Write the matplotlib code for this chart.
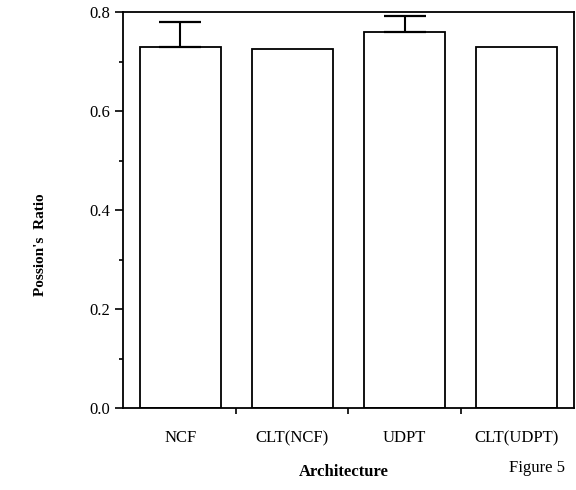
import matplotlib
matplotlib.use('Agg')
import matplotlib.pyplot as plt
import numpy as np

# data
categories = ['NCF', 'CLT(NCF)', 'UDPT', 'CLT(UDPT)']
ratio = [0.730, 0.725, 0.759, 0.730]
err_up = [0.051, 0.0, 0.033, 0.0]

plt.rcParams['font.family'] = ['Liberation Serif', 'DejaVu Serif']

fig = plt.figure(figsize=(5.76, 4.9), dpi=100)
ax = fig.add_axes([0.2135, 0.1673, 0.783, 0.808])

x = np.arange(len(categories))
ax.bar(x, ratio, width=0.72, color='white', edgecolor='black', linewidth=1.3,
       zorder=2)
# only the bars with an error bar, upward only
has_err = [i for i, e in enumerate(err_up) if e > 0]
ex = x[has_err]
ey = np.array(ratio)[has_err]
eu = np.array(err_up)[has_err]
ax.errorbar(ex, ey, yerr=[np.zeros(len(eu)), eu], fmt='none', ecolor='black',
            elinewidth=1.5, capsize=15, capthick=1.6, zorder=3)

ax.set_xlim(-0.51, 3.51)
ax.set_ylim(0, 0.8)
ax.set_yticks([0.0, 0.2, 0.4, 0.6, 0.8])
ax.set_yticklabels(['0.0', '0.2', '0.4', '0.6', '0.8'], fontsize=12)
ax.set_yticks([0.1, 0.3, 0.5, 0.7], minor=True)
ax.set_xticks(x)
ax.set_xticklabels(categories, fontsize=12)
ax.set_xticks([0.5, 1.5, 2.5], minor=True)
ax.tick_params(axis='x', which='major', length=0, pad=16)
ax.tick_params(axis='x', which='minor', length=4, width=1.2, direction='out')
ax.tick_params(axis='y', which='major', length=6, width=1.2, direction='out')
ax.tick_params(axis='y', which='minor', length=3, width=1.2, direction='out')
for s in ax.spines.values():
    s.set_linewidth(1.3)

fig.text(40 / 576, 1 - 245 / 490, "Possion's  Ratio", rotation=90,
         ha='center', va='center', fontsize=11, fontweight='bold')
fig.text(344 / 576, 1 - 472 / 490, 'Architecture', ha='center', va='center',
         fontsize=12, fontweight='bold')
fig.text(537 / 576, 1 - 468 / 490, 'Figure 5', ha='center', va='center',
         fontsize=12)

fig.savefig('out.png', dpi=100)
